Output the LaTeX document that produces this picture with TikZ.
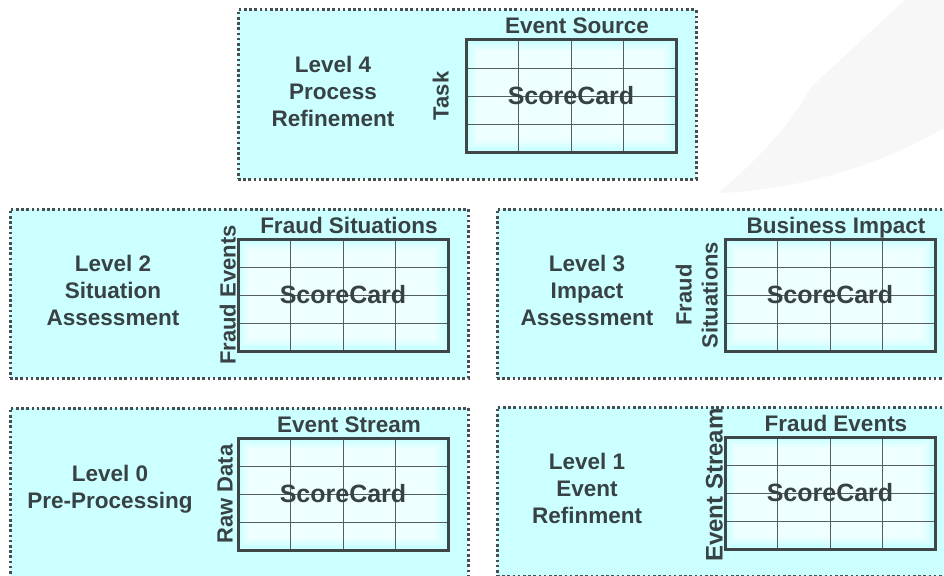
\documentclass[tikz,border=0pt]{standalone}
\usepackage{fontspec}
\setmainfont{Liberation Sans}
\usetikzlibrary{calc}

\definecolor{panelfill}{RGB}{204,255,255}
\definecolor{inkdark}{RGB}{56,66,68}
\definecolor{borderdot}{RGB}{70,78,80}
\definecolor{framedark}{RGB}{62,70,72}
\definecolor{gridline}{RGB}{84,94,96}
\definecolor{swoosh}{RGB}{247,247,247}

\tikzset{
  panel/.style={draw=borderdot, fill=panelfill, line width=3pt,
    dash pattern=on 2.6pt off 2.6pt, minimum width=458pt, minimum height=169pt,
    anchor=north west, inner sep=0pt, outer sep=0pt},
  cardframe/.style={draw=framedark, fill=panelfill, line width=3pt,
    minimum width=210pt, minimum height=112pt, anchor=north west,
    inner sep=0pt, outer sep=0pt},
  leveltext/.style={text=inkdark, font=\bfseries\fontsize{22.5}{27}\selectfont,
    align=center, inner sep=0pt},
  toplabel/.style={text=inkdark, font=\bfseries\fontsize{22.5}{27}\selectfont,
    anchor=base, inner sep=0pt},
  sidelabel/.style={text=inkdark, font=\bfseries\fontsize{22}{26}\selectfont,
    rotate=90, anchor=south, align=center, inner sep=0pt},
  cardtext/.style={text=inkdark, font=\bfseries\fontsize{25}{30}\selectfont,
    inner sep=0pt},
  gridrule/.style={draw=gridline, line width=0.9pt},
}

% #1 name, #2 x, #3 y, #4 level caption, #5 caption offset,
% #6 column heading, #7 row heading, #8 gap of the row heading
\newcommand\panelset[8]{%
  \node[panel] (#1) at (#2,#3) {};
  \node[cardframe] (#1c) at ($(#1.north west)+(228,30)$) {};
  % soft light centre of the score card
  \fill[panelfill!72!white] ($(#1c.north west)+(4,4)$) rectangle ($(#1c.south east)+(-5,-5)$);
  \fill[panelfill!52!white] ($(#1c.north west)+(7,7)$) rectangle ($(#1c.south east)+(-8,-8)$);
  \fill[panelfill!36!white] ($(#1c.north west)+(10,10)$) rectangle ($(#1c.south east)+(-12,-11)$);
  \foreach \k in {1,2,3} {
    \draw[gridrule] ($(#1c.north west)!{\k/4}!(#1c.north east)$) -- ($(#1c.south west)!{\k/4}!(#1c.south east)$);
    \draw[gridrule] ($(#1c.north west)!{\k/4}!(#1c.south west)$) -- ($(#1c.north east)!{\k/4}!(#1c.south east)$);
  }
  \draw[framedark, line width=3pt] (#1c.north west) rectangle (#1c.south east);
  \node[cardtext] (#1s) at (#1c.center) {ScoreCard};
  \node[toplabel] (#1t) at ($(#1c.north)+(6,-6)$) {#6};
  \node[sidelabel] (#1l) at ($(#1c.west)+(-#8,0)$) {#7};
  \node[leveltext] (#1v) at ($(#1.west)+(#5,-3)$) {#4};
}

\begin{document}
\begin{tikzpicture}[x=1pt, y=-1pt]
  \useasboundingbox (0,0) rectangle (944,575);
  \clip (0,0) rectangle (944,575);
  \fill[white] (0,0) rectangle (944,575);

  % faint swoosh in the upper right corner
  \fill[swoosh] (718,193) .. controls (770,150) and (800,110) .. (810,88)
    -- (905,0) -- (944,0) -- (944,128)
    .. controls (880,165) and (800,190) .. (718,193) -- cycle;

  \panelset{lvfour}{238}{10}{Level 4\\Process\\Refinement}{95}{Event Source}{Task}{17}
  \panelset{lvtwo}{10}{209}{Level 2\\Situation\\Assessment}{103}{Fraud Situations}{Fraud Events}{2}
  \panelset{lvthree}{497}{209}{Level 3\\Impact\\Assessment}{90}{Business Impact}{Fraud\\Situations}{7}
  \panelset{lvzero}{10}{408}{Level 0\\Pre-Processing}{100}{Event Stream}{Raw Data}{5}
  \panelset{lvone}{497}{407}{Level 1\\Event\\Refinment}{90}{Fraud Events}{\fontsize{24}{28}\selectfont\hspace*{16pt}Event Stream}{2}
\end{tikzpicture}
\end{document}
